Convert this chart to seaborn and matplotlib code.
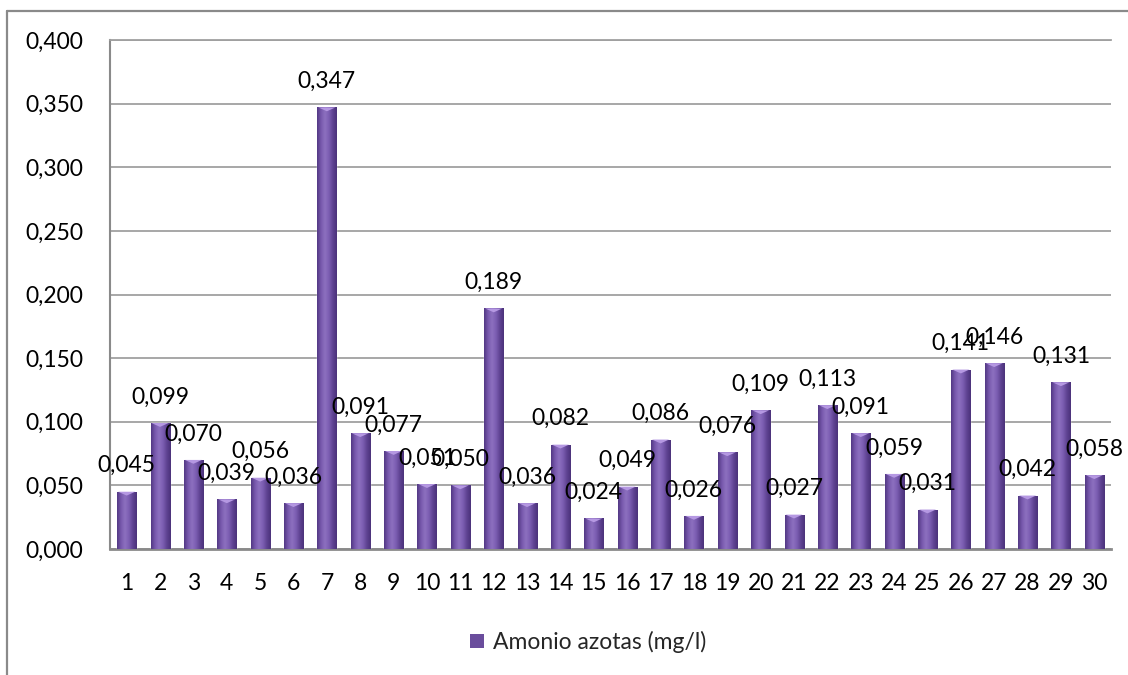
import numpy as np
import pandas as pd
import matplotlib
matplotlib.use("Agg")
import matplotlib.pyplot as plt
from matplotlib.colors import LinearSegmentedColormap
from matplotlib.patches import Patch
from matplotlib.lines import Line2D
from matplotlib.path import Path
from matplotlib.ticker import FuncFormatter, MultipleLocator
import seaborn as sns

# Sampling points and measured ammonium nitrogen
categories = [str(i) for i in range(1, 31)]
values = [0.045, 0.099, 0.070, 0.039, 0.056, 0.036, 0.347, 0.091, 0.077, 0.051,
          0.050, 0.189, 0.036, 0.082, 0.024, 0.049, 0.086, 0.026, 0.076, 0.109,
          0.027, 0.113, 0.091, 0.059, 0.031, 0.141, 0.146, 0.042, 0.131, 0.058]
series_name = "Amonio azotas (mg/l)"

df = pd.DataFrame({"point": categories, "value": values})

sns.set_style("white")
plt.rcParams["font.family"] = ["Lato", "DejaVu Sans"]

FONT = 16.5
TEXT = "#000000"
GRID = "#a0a0a0"
AXIS = "#8a8a8a"
BAR = "#6e51a2"

fig = plt.figure(figsize=(11.28, 6.75), dpi=100)
ax = fig.add_axes([110 / 1128, 1 - 549 / 675, (1111 - 110) / 1128, (549 - 40) / 675])

sns.barplot(data=df, x="point", y="value", color=BAR, width=0.57,
            saturation=1, ax=ax, zorder=3)

ax.set_xlim(-0.5, len(categories) - 0.5)
ax.set_ylim(0, 0.4)

# cylinder-like shading on each bar
shade = LinearSegmentedColormap.from_list(
    "shade", ["#523883", "#7859ad", "#8d70c0", "#7c5eb2", "#5f4392", "#4b327a"])
grad = np.linspace(0, 1, 64)[None, :]
for p in ax.patches:
    x0, w, h = p.get_x(), p.get_width(), p.get_height()
    im = ax.imshow(grad, cmap=shade, extent=[x0, x0 + w, 0, h],
                   aspect="auto", zorder=4, interpolation="bicubic")
    im.set_clip_path(p)

# light pyramid caps on bar tops
cap = Path([(-1, 0), (1, 0), (0, -0.45), (-1, 0)],
           [Path.MOVETO, Path.LINETO, Path.LINETO, Path.CLOSEPOLY])
ax.scatter(range(len(values)), values, marker=cap, s=150, color="#b598e2",
           edgecolors="none", zorder=5)

ax.set_xlim(-0.5, len(categories) - 0.5)
ax.set_ylim(0, 0.4)

# value labels above bars
for i, v in enumerate(values):
    ax.annotate(f"{v:.3f}".replace(".", ","), xy=(i, v), xytext=(0, 26),
                textcoords="offset pixels", ha="center", va="center",
                fontsize=FONT, color=TEXT, zorder=6)

ax.yaxis.set_major_locator(MultipleLocator(0.05))
ax.yaxis.set_major_formatter(FuncFormatter(lambda v, _: f"{v:.3f}".replace(".", ",")))
ax.tick_params(axis="y", length=0, pad=19, labelsize=FONT, labelcolor=TEXT)
ax.tick_params(axis="x", length=0, pad=17, labelsize=FONT, labelcolor=TEXT)
ax.set_xlabel("")
ax.set_ylabel("")

ax.grid(axis="y", color=GRID, linewidth=1.3, zorder=0)
ax.grid(axis="x", visible=False)
ax.set_axisbelow(True)
ax.spines["right"].set_visible(False)
ax.spines["top"].set_color(GRID)
ax.spines["top"].set_linewidth(1.3)
ax.spines["left"].set_color(AXIS)
ax.spines["left"].set_linewidth(1.5)
ax.spines["bottom"].set_color(AXIS)
ax.spines["bottom"].set_linewidth(2.0)

fig.legend(handles=[Patch(facecolor="#6a4d9c", edgecolor="none")],
           labels=[series_name], loc="center",
           bbox_to_anchor=(588 / 1128, 1 - 642 / 675), frameon=False,
           fontsize=FONT, handlelength=0.62, handleheight=0.62,
           handletextpad=0.4)

# chart frame (top and left edges)
fig.add_artist(Line2D([7 / 1128, 1.0], [1 - 11 / 675, 1 - 11 / 675],
                      transform=fig.transFigure, color=AXIS, linewidth=1.6))
fig.add_artist(Line2D([7 / 1128, 7 / 1128], [1 - 11 / 675, 0.0],
                      transform=fig.transFigure, color=AXIS, linewidth=1.6))

fig.savefig("out.png", dpi=100, facecolor="white")
